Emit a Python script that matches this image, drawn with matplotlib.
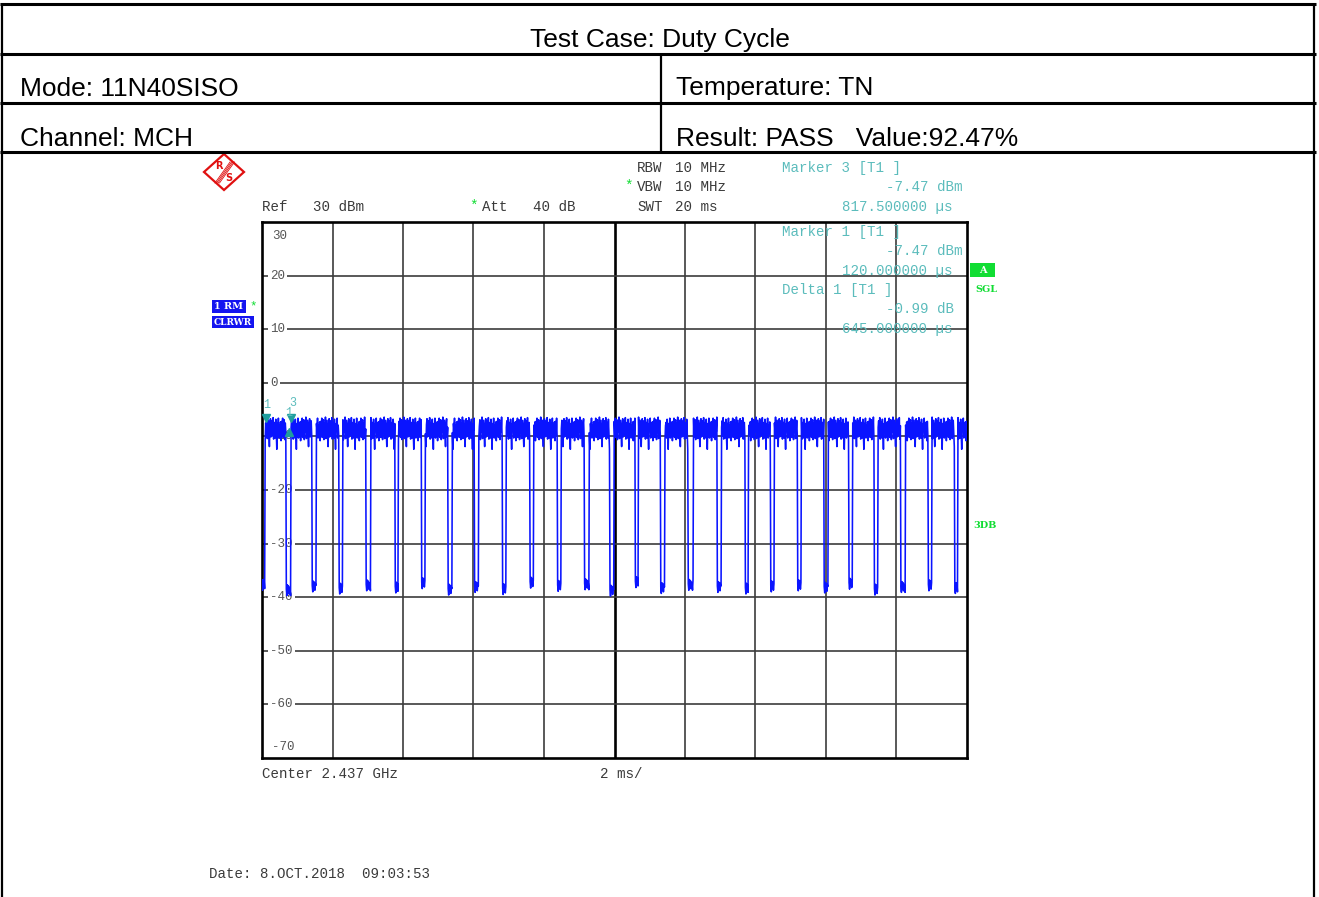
import numpy as np
import matplotlib
matplotlib.use('Agg')
import matplotlib.pyplot as plt
from matplotlib.lines import Line2D
from matplotlib.patches import Polygon, Rectangle

W, H = 1319, 897

# header table texts
title_text = 'Test Case: Duty Cycle'
row_texts = [('Mode: 11N40SISO', 'Temperature: TN'),
             ('Channel: MCH', 'Result: PASS   Value:92.47%')]

# analyzer settings / readouts
ref_level = 30
y_labels = [20, 10, 0, -10, -20, -30, -40, -50, -60]
sweep_ms = 20

# gap centres (ms), gap widths (ms) and gap floors (dBm)
dip_centers = [0.04, 0.75, 1.48, 2.24, 3.02, 3.82, 4.58, 5.33, 6.09, 6.87,
               7.65, 8.43, 9.21, 9.92, 10.63, 11.37, 12.16, 12.97, 13.75,
               14.48, 15.24, 16.00, 16.70, 17.42, 18.18, 18.95, 19.69]
dip_widths = [0.10, 0.14, 0.12, 0.10, 0.14, 0.10, 0.10, 0.12, 0.12, 0.10,
              0.10, 0.10, 0.14, 0.12, 0.10, 0.12, 0.14, 0.12, 0.10, 0.10,
              0.10, 0.12, 0.10, 0.10, 0.14, 0.10, 0.10]
dip_floors = [-37.5, -38.5, -37.8, -38.2, -37.6, -38.0, -37.2, -38.4, -37.9,
              -38.3, -37.1, -37.7, -37.4, -38.6, -37.0, -38.1, -37.5, -37.9,
              -38.2, -37.8, -37.6, -38.0, -37.3, -38.4, -37.9, -37.6, -38.1]
dip_wiggle = [0.0, -1.2, 0.8, -0.5, 0.6, -0.9, 0.3]
# on-level ripple (dBm), hand read from the burst tops
ripple = [-7.2, -9.8, -6.6, -10.2, -8.1, -6.9, -10.6, -7.5, -9.1, -6.4,
          -10.4, -8.6, -7.0, -9.5, -11.9, -7.8, -6.7, -10.1, -8.3, -7.1,
          -9.9, -6.5, -10.5, -8.0, -7.4, -10.3, -6.8, -9.3, -12.4, -7.6,
          -8.8, -6.6, -10.3, -7.9, -9.6, -7.3, -10.8]

marker1 = (0.12, -7.47)
marker3 = (0.8175, -7.47)
delta1 = (0.765, -8.46)

# ---- build trace
t = np.arange(0, 1334) * (sweep_ms / 1333.0)
level = np.array([ripple[i % len(ripple)] for i in range(len(t))])
for c, w, f in zip(dip_centers, dip_widths, dip_floors):
    idx = np.where((t >= c - w / 2 - 1e-9) & (t <= c + w / 2 + 1e-9))[0]
    for k, i in enumerate(idx):
        level[i] = f + dip_wiggle[k % len(dip_wiggle)]


def fx(x):
    return x / W


def fy(y):
    return 1 - y / H


fig = plt.figure(figsize=(W / 100, H / 100), dpi=100)

# ---- header table
def fline(x0, y0, x1, y1, lw):
    fig.add_artist(Line2D([fx(x0), fx(x1)], [fy(y0), fy(y1)], color='black',
                          lw=lw, transform=fig.transFigure, solid_capstyle='butt'))

for yy in [4, 54, 103, 152]:
    fline(0, yy, 1316, yy, 2.2)
fline(1.5, 3, 1.5, 897, 1.6)
fline(1314, 3, 1314, 897, 1.6)
fline(661, 54, 661, 152, 1.6)

sans = 'Liberation Sans'
fig.text(fx(660), fy(39.5), title_text, ha='center', va='center', fontsize=19,
         family=sans)
for (lt, rt), yy in zip(row_texts, [88.5, 138.5]):
    fig.text(fx(20), fy(yy), lt, ha='left', va='center', fontsize=19, family=sans)
    fig.text(fx(676), fy(yy), rt, ha='left', va='center', fontsize=19, family=sans)

# ---- analyzer screen
mono = 'Liberation Mono'
gray = '#3a3a3a'
teal = '#5bbcbc'
green = '#11dd33'
ax = fig.add_axes([fx(262), fy(758), (967 - 262) / W, (758 - 222) / H])
ax.set_xlim(0, sweep_ms)
ax.set_ylim(ref_level - 100, ref_level)
ax.set_xticks([])
ax.set_yticks([])
for s in ax.spines.values():
    s.set_linewidth(1.9)
    s.set_color('black')
for xv in np.arange(2, sweep_ms, 2):
    if xv == 10:
        ax.axvline(xv, color='black', lw=1.9, zorder=1)
    else:
        ax.axvline(xv, color='#3c3c3c', lw=1.2, zorder=1)
for yv in y_labels:
    ax.axhline(yv, color='#3c3c3c', lw=1.2, zorder=1)
    ax.text(0.23, yv, str(yv), ha='left', va='center', fontsize=9, family=mono,
            color='#555555', zorder=2,
            bbox=dict(facecolor='white', edgecolor='none', pad=1.6))
ax.text(0.28, 27.4, str(ref_level), ha='left', va='center', fontsize=9,
        family=mono, color='#555555')
ax.text(0.28, -67.9, str(ref_level - 100), ha='left', va='center', fontsize=9,
        family=mono, color='#555555')

ax.plot(t, level, color='#0a14ff', lw=1.15, zorder=3)

# markers
ax.plot([marker1[0]], [-6.6], marker='v', color='#1f9e9e', ms=6, zorder=4,
        clip_on=False)
ax.plot([marker3[0]], [-6.6], marker='v', color='#1f9e9e', ms=6, zorder=4,
        clip_on=False)
ax.plot([delta1[0]], [-9.2], marker='^', color='#1f9e9e', ms=6, zorder=4)
ax.text(marker1[0], -4.2, '1', ha='center', va='center', fontsize=8.5,
        family=mono, color=teal, zorder=4)
ax.text(marker3[0] + 0.05, -3.7, '3', ha='center', va='center', fontsize=8.5,
        family=mono, color=teal, zorder=4)
ax.text(delta1[0], -5.7, '1', ha='center', va='center', fontsize=8.5,
        family=mono, color=teal, zorder=4)

# top settings text
fs = 10.2
fig.text(fx(262), fy(207), 'Ref   30 dBm', ha='left', va='center', fontsize=fs,
         family=mono, color=gray)
fig.text(fx(473), fy(206), '*', ha='center', va='center', fontsize=fs,
         family=mono, color=green)
fig.text(fx(482), fy(207), 'Att   40 dB', ha='left', va='center', fontsize=fs,
         family=mono, color=gray)
for lab, val, yy in [('RBW', '10 MHz', 168), ('VBW', '10 MHz', 187),
                     ('SWT', '20 ms', 207)]:
    fig.text(fx(637), fy(yy), lab, ha='left', va='center', fontsize=fs,
             family=mono, color=gray)
    fig.text(fx(675), fy(yy), val, ha='left', va='center', fontsize=fs,
             family=mono, color=gray)
fig.text(fx(628), fy(186), '*', ha='center', va='center', fontsize=fs,
         family=mono, color=green)

# marker readouts
readouts = [('Marker 3 [T1 ]', '-7.47 dBm', '817.500000 \u00b5s', 168),
            ('Marker 1 [T1 ]', '-7.47 dBm', '120.000000 \u00b5s', 232),
            ('Delta 1 [T1 ]', '-0.99 dB ', '645.000000 \u00b5s', 290)]
for head, v1, v2, yy in readouts:
    fig.text(fx(782), fy(yy), head, ha='left', va='center', fontsize=fs,
             family=mono, color=teal, zorder=5)
    fig.text(fx(962), fy(yy + 19), v1, ha='right', va='center', fontsize=fs,
             family=mono, color=teal, zorder=5)
    fig.text(fx(953), fy(yy + 38.5), v2, ha='right', va='center', fontsize=fs,
             family=mono, color=teal, zorder=5)

# side annotations
def fbox(x0, y0, w, h, color):
    fig.add_artist(Rectangle((fx(x0), fy(y0 + h)), w / W, h / H,
                             transform=fig.transFigure, facecolor=color,
                             edgecolor='none'))

fbox(970, 263, 25, 14, green)
fig.text(fx(982.5), fy(270.5), 'A', ha='center', va='center', fontsize=7,
         color='white', weight='bold', family='DejaVu Serif')
fig.text(fx(986), fy(289), 'SGL', ha='center', va='center', fontsize=7,
         color=green, weight='bold', family='DejaVu Serif')
fig.text(fx(985), fy(525), '3DB', ha='center', va='center', fontsize=7,
         color=green, weight='bold', family='DejaVu Serif')

fbox(212, 300, 34, 13, '#1414f0')
fig.text(fx(229), fy(306.5), '1 RM', ha='center', va='center', fontsize=7,
         color='white', weight='bold', family='DejaVu Serif')
fig.text(fx(253), fy(306), '*', ha='center', va='center', fontsize=9,
         color=green, family=mono)
fbox(212, 316, 42, 12, '#1414f0')
fig.text(fx(233), fy(322), 'CLRWR', ha='center', va='center', fontsize=6.5,
         color='white', weight='bold', family='DejaVu Serif')

# R&S logo
cx, cy = 224, 172
diamond = [(cx - 20, cy), (cx, cy - 18), (cx + 20, cy), (cx, cy + 18)]
fig.add_artist(Polygon([(fx(a), fy(b)) for a, b in diamond], closed=True,
                       transform=fig.transFigure, facecolor='none',
                       edgecolor='#e01010', lw=1.6))
for off in [-3, -1.5, 0, 1.5]:
    fig.add_artist(Line2D([fx(cx + 9 + off), fx(cx - 6 + off)],
                          [fy(cy - 10), fy(cy + 11)], color='#e01010', lw=0.6,
                          transform=fig.transFigure))
fig.text(fx(cx - 5), fy(cy - 6), 'R', ha='center', va='center', fontsize=7,
         color='#e01010', weight='bold')
fig.text(fx(cx + 5), fy(cy + 6), 'S', ha='center', va='center', fontsize=7,
         color='#e01010', weight='bold')

# bottom texts
fig.text(fx(262), fy(774), 'Center 2.437 GHz', ha='left', va='center',
         fontsize=fs, family=mono, color=gray)
fig.text(fx(600), fy(774), '2 ms/', ha='left', va='center', fontsize=fs,
         family=mono, color=gray)
fig.text(fx(209), fy(874), 'Date: 8.OCT.2018  09:03:53', ha='left',
         va='center', fontsize=fs, family=mono, color=gray)

fig.savefig('out.png', dpi=100)
